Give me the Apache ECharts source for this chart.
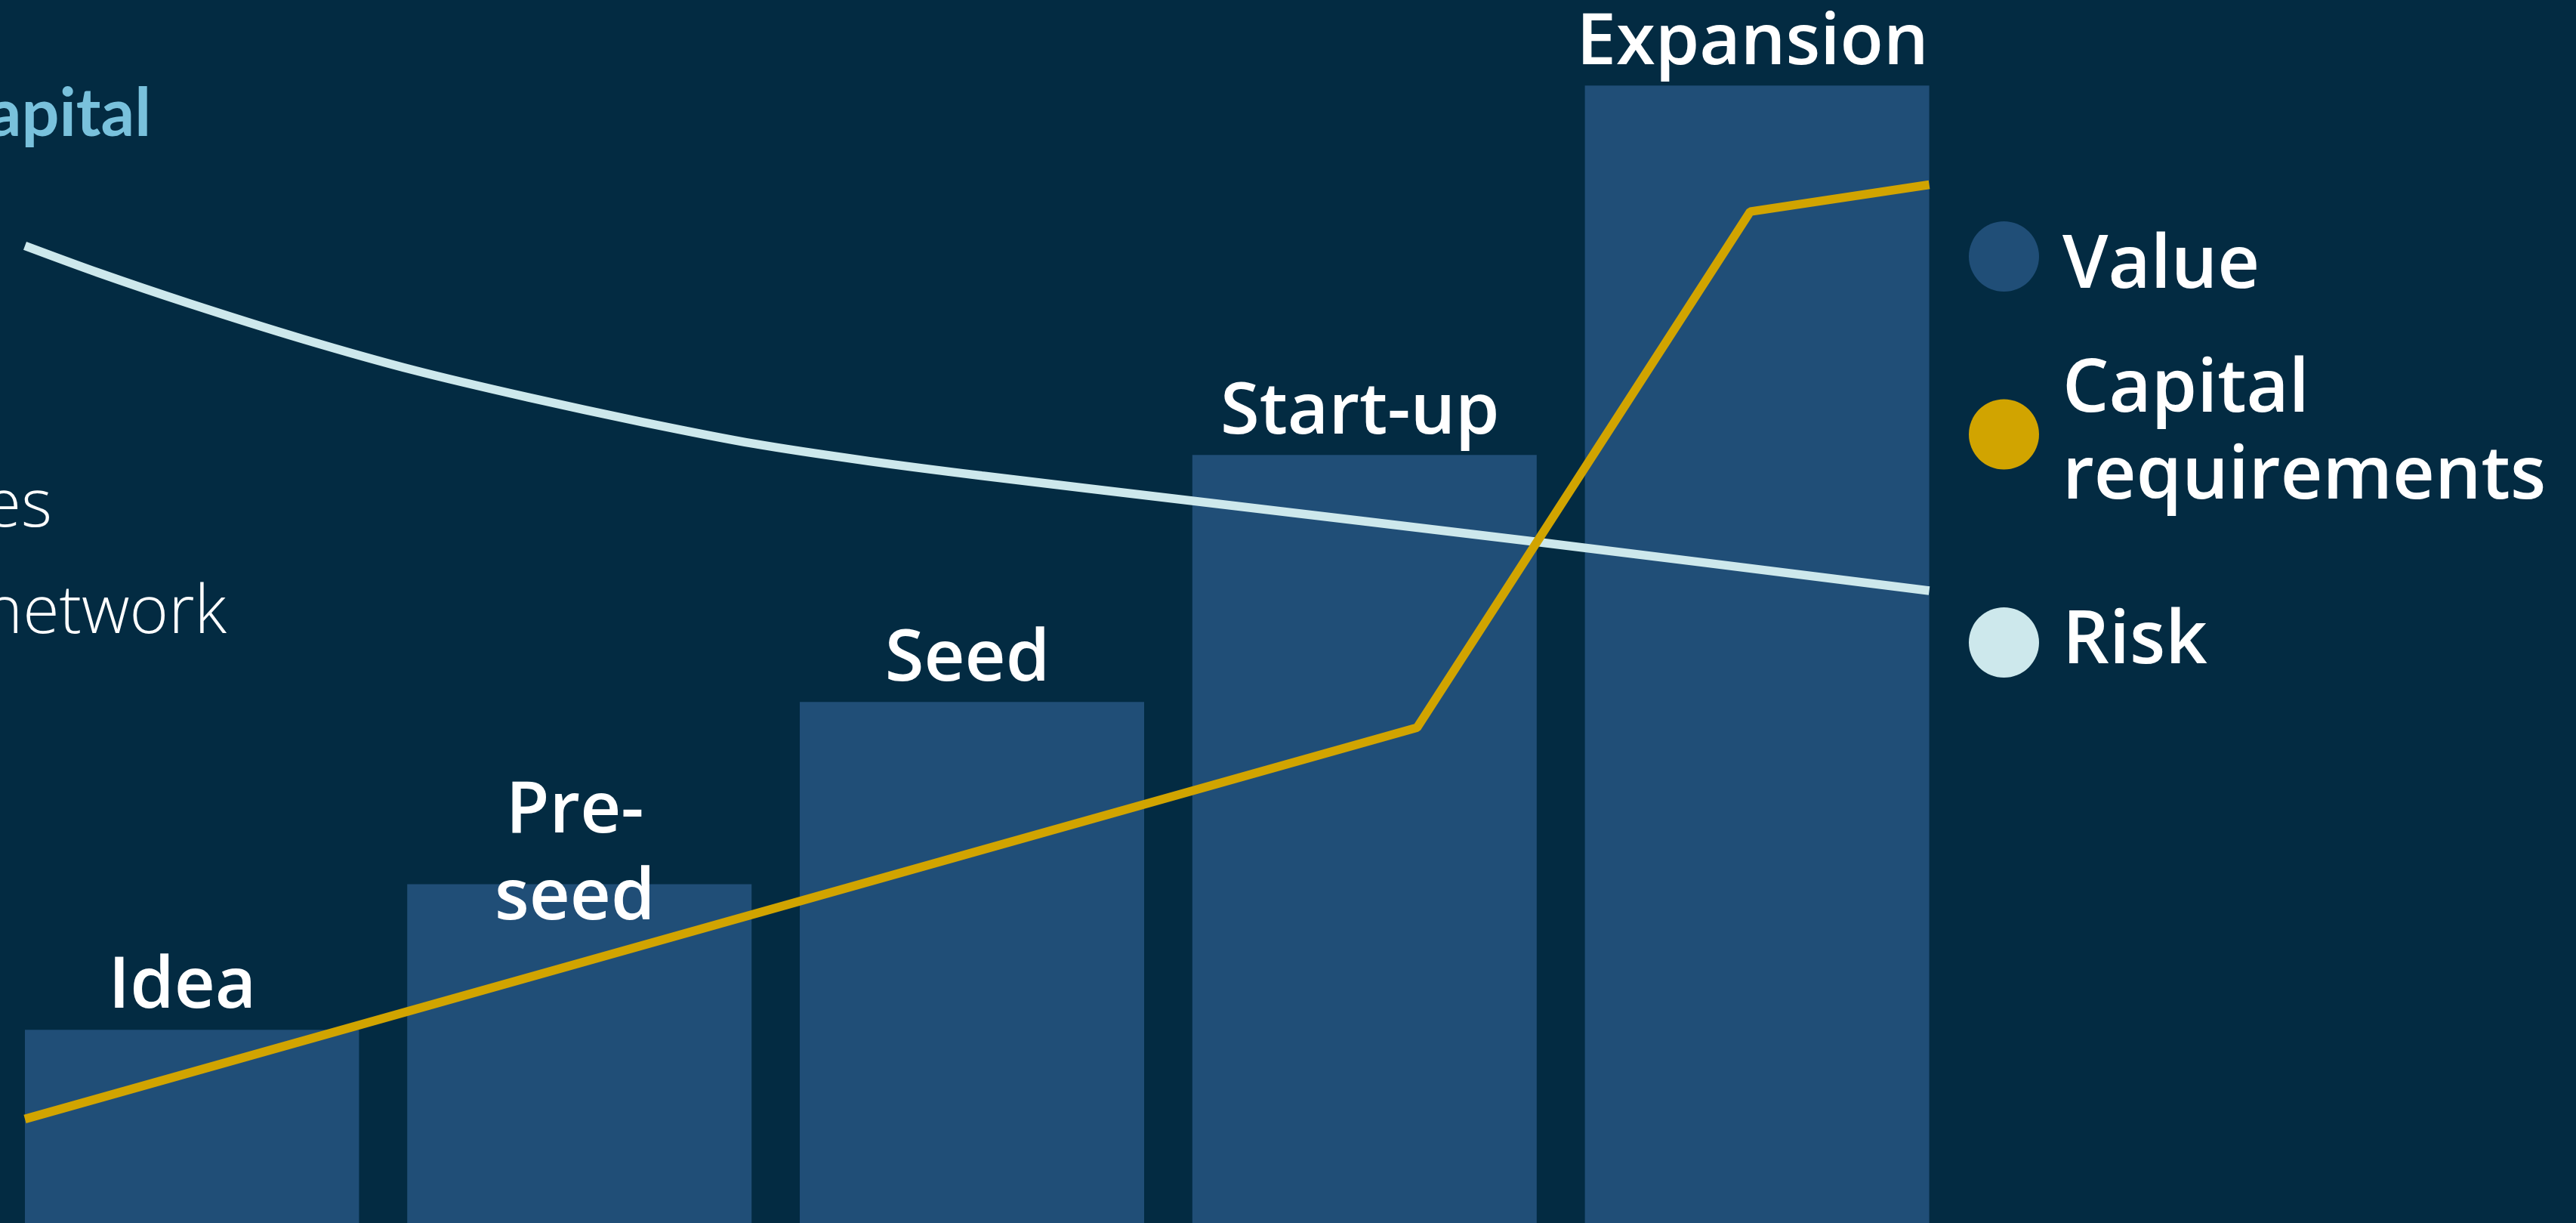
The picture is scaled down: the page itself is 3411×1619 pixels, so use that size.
<!DOCTYPE html>
<html><head><meta charset="utf-8">
<script src="https://cdn.jsdelivr.net/npm/echarts@6/dist/echarts.min.js"></script>
<style>html,body{margin:0;padding:0;background:#032B42;}#c{width:3411px;height:1619px;}</style>
</head><body><div id="c"></div>
<script>
// ---- data ----
const stages = ['Idea', 'Pre-\nseed', 'Seed', 'Start-up', 'Expansion'];
const stageValue = [15.8, 27.7, 42.6, 62.8, 93.0];
// lines drawn on a 0–100 % progression axis across the plot
const capitalX = [0, 73.1, 90.6, 100];
const capitalY = [8.5, 40.5, 82.7, 84.9];
const riskX = [0, 3.85, 8.6, 14.55, 20.5, 26.45, 32.4, 38.35, 44.3, 50.25, 61.3, 79.35, 100];
const riskY = [79.9, 77.7, 75.2, 72.3, 69.7, 67.5, 65.5, 63.7, 62.3, 61.1, 59.05, 55.7, 51.7];
const legendNames = ['Value', 'Capital requirements', 'Risk'];
const sideTexts = ['apital', 'es', 'network'];

// ---- styling ----
const BG = '#032B42', BAR = '#204E77', GOLD = '#D1A400', RISK = '#CDE8EC';
const FONT = '"Open Sans", "Noto Sans", sans-serif';

const chart = echarts.init(document.getElementById('c'), null, {renderer: 'canvas'});

const barData = stages.map((s, i) => {
  const item = {value: [i + 1, stageValue[i]]};
  if (s.indexOf('\n') >= 0) item.label = {offset: [-6, 80]};
  return item;
});

const legendTops = [272, 455, 788];
const legendText = {color: '#FFFFFF', fontFamily: FONT, fontWeight: 600, fontSize: 97, lineHeight: 115};

const option = {
  backgroundColor: BG,
  animation: false,
  grid: {left: 33, right: 856.4, top: 0, bottom: 0, containLabel: false},
  xAxis: [
    {type: 'value', min: 0.5875, max: 5.4386, show: false},
    {type: 'value', min: 0, max: 100, show: false}
  ],
  yAxis: [{type: 'value', min: 0, max: 100, show: false}],
  legend: legendNames.map((n, i) => ({
    data: [n],
    orient: 'vertical',
    left: 2602,
    top: legendTops[i],
    icon: 'circle',
    itemWidth: 93,
    itemHeight: 93,
    selectedMode: false,
    formatter: name => name === 'Capital requirements' ? 'Capital\nrequirements'
      : (i === 0 ? '{v|' + name + '}{h| }' : name),
    textStyle: Object.assign({}, legendText, {
      padding: [0, 0, 0, 26],
      rich: {
        v: Object.assign({}, legendText, {verticalAlign: 'bottom'}),
        h: {fontSize: 10, lineHeight: 125}
      }
    })
  })),
  series: [
    {
      name: 'Value', type: 'bar', xAxisIndex: 0, yAxisIndex: 0, z: 2,
      barWidth: 456,
      itemStyle: {color: BAR},
      label: {
        show: true, position: 'top', distance: 3, offset: [-6, 5],
        color: '#FFFFFF', fontFamily: FONT, fontWeight: 600, fontSize: 94, lineHeight: 115,
        formatter: p => stages[p.dataIndex]
      },
      data: barData
    },
    {
      name: 'Risk', type: 'line', xAxisIndex: 1, yAxisIndex: 0, z: 4,
      smooth: 0.3, symbol: 'none', itemStyle: {color: RISK},
      lineStyle: {color: RISK, width: 11.5},
      data: riskX.map((x, i) => [x, riskY[i]])
    },
    {
      name: 'Capital requirements', type: 'line', xAxisIndex: 1, yAxisIndex: 0, z: 5,
      symbol: 'none', itemStyle: {color: GOLD},
      lineStyle: {color: GOLD, width: 11.5},
      data: capitalX.map((x, i) => [x, capitalY[i]])
    }
  ],
  graphic: [
    // plot-area edge: the first bar is cut by the plot area's left border
    {type: 'rect', z: 3, shape: {x: 0, y: 1300, width: 33, height: 319}, style: {fill: BG}},
    {type: 'text', x: 200, y: 152, style: {text: sideTexts[0], fill: '#79C1DC', font: '700 88px Lato, ' + FONT, align: 'right', verticalAlign: 'middle'}},
    {type: 'text', x: 69, y: 672, style: {text: sideTexts[1], fill: '#FFFFFF', font: '300 88px ' + FONT, align: 'right', verticalAlign: 'middle'}},
    {type: 'text', x: 300, y: 813, style: {text: sideTexts[2], fill: '#FFFFFF', font: '300 88px ' + FONT, align: 'right', verticalAlign: 'middle'}}
  ]
};
chart.setOption(option);
</script>
</body></html>
